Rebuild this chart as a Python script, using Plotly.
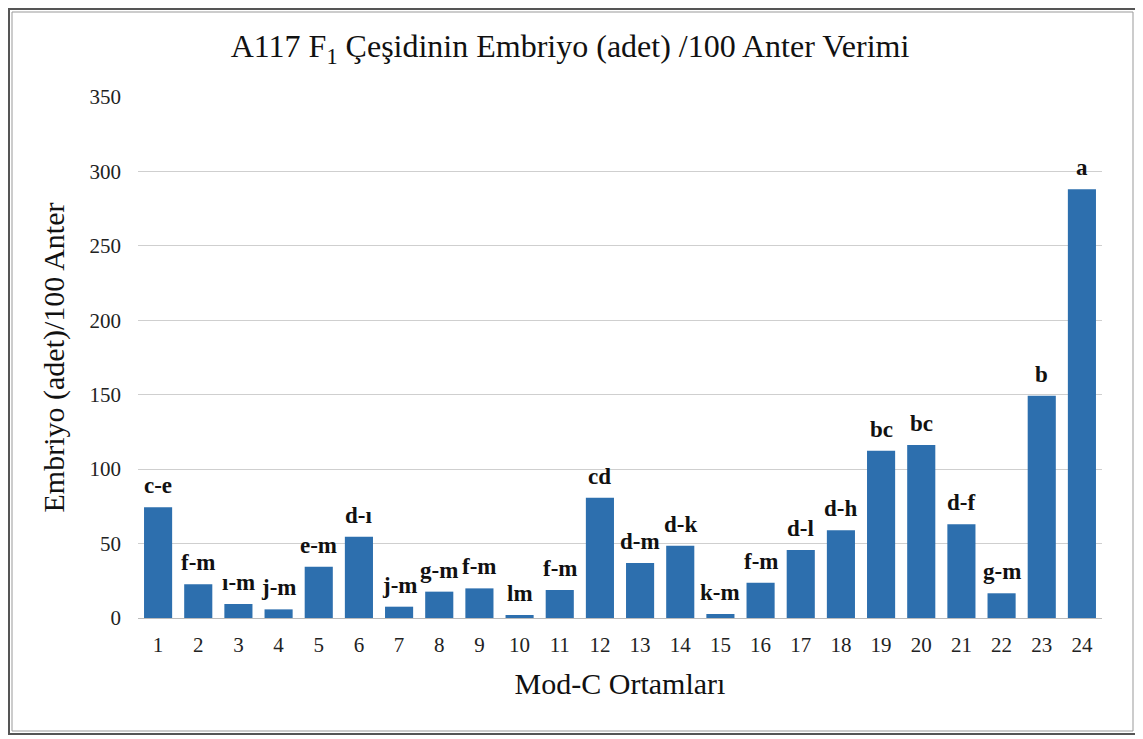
import plotly.graph_objects as go

categories = list(range(1, 25))
values = [74.4, 22.6, 9.4, 5.8, 34.5, 54.6, 7.6, 17.7, 19.9, 2.0, 18.8, 80.8,
          37.0, 48.6, 2.7, 23.7, 45.7, 59.0, 112.4, 116.2, 62.9, 16.6, 149.3, 288.0]
letters = ["c-e", "f-m", "ı-m", "j-m", "e-m", "d-ı", "j-m", "g-m", "f-m", "lm", "f-m", "cd",
           "d-m", "d-k", "k-m", "f-m", "d-l", "d-h", "bc", "bc", "d-f", "g-m", "b", "a"]
y_ticks = [0, 50, 100, 150, 200, 250, 300, 350]

serif = "Liberation Serif, Times New Roman, serif"

# page body has an 8px offset; figure size compensates
W, H = 1135, 731
L, R, T, B = 130, 41, 89, 121
pw, ph = W - L - R, H - T - B

fig = go.Figure()
fig.add_trace(go.Bar(
    x=categories, y=values,
    marker=dict(color="#2d6fae", line=dict(width=0)),
    showlegend=False,
))

for c, v, t in zip(categories, values, letters):
    fig.add_annotation(x=c, y=v, text="<b>%s</b>" % t, showarrow=False,
                       yanchor="bottom", yshift=7,
                       font=dict(family=serif, size=23, color="#111111"))

fig.update_layout(
    width=W, height=H,
    margin=dict(l=L, r=R, t=T, b=B, autoexpand=False),
    paper_bgcolor="white", plot_bgcolor="white",
    bargap=0.3,
    title=dict(text="A117 F<sub>1</sub> Çeşidinin Embriyo (adet) /100 Anter Verimi",
               x=(570 - 8) / W, xref="container", y=1 - (46 - 8) / H, yref="container",
               xanchor="center", yanchor="middle",
               font=dict(family=serif, size=32, color="#111111")),
    xaxis=dict(title=dict(text="Mod-C Ortamları", font=dict(family=serif, size=30, color="#111111"),
                          standoff=16),
               range=[0.5, 24.5], tickmode="array", tickvals=categories,
               tickfont=dict(family=serif, size=21, color="#222222"),
               showline=True, linecolor="#bbbbbb", linewidth=1,
               ticks="", ticklabelstandoff=8, showgrid=False),
    yaxis=dict(title=dict(text="Embriyo (adet)/100 Anter", font=dict(family=serif, size=30, color="#111111"),
                          standoff=16),
               range=[0, 350], tickvals=y_ticks,
               tickfont=dict(family=serif, size=21, color="#222222"),
               showgrid=True, gridcolor="#cfcfcf", gridwidth=1,
               zeroline=False, ticks="", ticklabelstandoff=16),
    shapes=[
        dict(type="rect", xref="paper", yref="paper",
             x0=(1 - L) / pw, x1=(1129 - L) / pw,
             y0=(ph + T - 726) / ph, y1=(ph + T - 1) / ph,
             line=dict(color="#555555", width=2)),
        dict(type="rect", xref="paper", yref="paper",
             x0=(4 - L) / pw, x1=(1125 - L) / pw,
             y0=(ph + T - 723) / ph, y1=(ph + T - 4) / ph,
             line=dict(color="#999999", width=1)),
    ],
)

fig.write_html("out.html")
